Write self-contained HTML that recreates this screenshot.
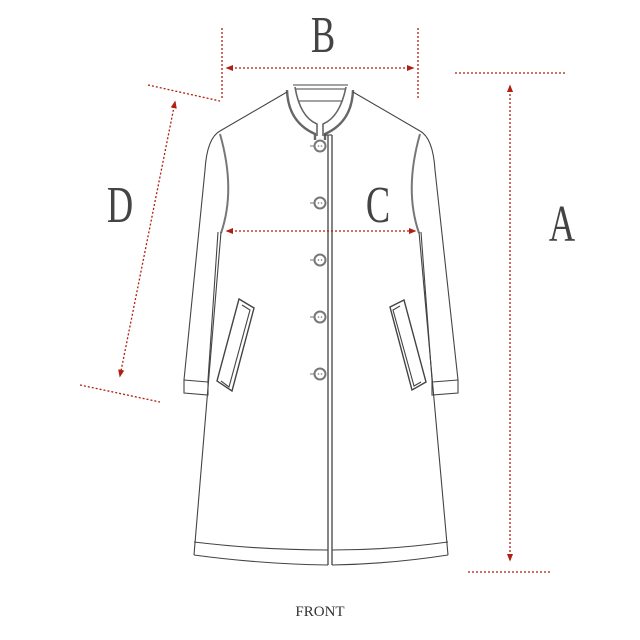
<!DOCTYPE html>
<html><head><style>body{margin:0;background:#fff}svg{display:block}</style></head><body>
<svg width="640" height="640" viewBox="0 0 640 640" xmlns="http://www.w3.org/2000/svg">
<defs>
<marker id="ar" viewBox="0 0 10 10" refX="8" refY="5" markerWidth="6" markerHeight="6" orient="auto-start-reverse"><path d="M0,1 L10,5 L0,9 z" fill="#b21e12"/></marker>
</defs>
<g fill="none" stroke="#444" stroke-width="1.1">
<path d="M293,85 L348,85"/>
<path d="M296,89 L345,89 M299,101 L342,101"/>
<path d="M287,90 Q288,122 315,134 L315,140 M353,90 Q352,122 325,134 L325,140" stroke-width="2.4" stroke="#666"/>
<path d="M295,87 Q300,117 317,124 L317,136 M346,87 Q340,117 323,124 L323,136" stroke-width="1.6" stroke="#666"/>
<path d="M287,92 L220,131 M353,92 L420,131"/>
<path d="M220,131 Q207,138 205,170 L184,380 L184,393 L208,395 L208,380 L218,232"/>
<path d="M184,380 L208,382"/>
<path d="M220,134 Q236,190 221,233" stroke-width="2" stroke="#777"/>
<path d="M420,131 Q433,138 435,170 L458,380 L458,393 L432,395 L432,380 L421,232"/>
<path d="M458,380 L432,382"/>
<path d="M420,134 Q404,190 419,233" stroke-width="2" stroke="#777"/>
<path d="M221,232 L194,555 M419,232 L448,555"/>
<path d="M194,542 Q260,550 328,550 M332,550 Q390,550 448,542"/>
<path d="M194,555 Q260,564 328,565 M332,565 Q390,564 448,555"/>
<path d="M328,135 L328,565 M332,135 L332,565" stroke-width="1.3"/>
<path d="M324,135 L332,135"/>
<path d="M239,299 L254,308 L232,391 L217,381 Z" stroke-width="1.4"/>
<path d="M242,305 L250,310 L229,387 L221,381" />
<path d="M404,300 L390,307 L412,390 L426,382 Z" stroke-width="1.4"/>
<path d="M400,306 L393,310 L414,386 L421,382"/>
</g>
<g fill="#fff" stroke="#777" stroke-width="2">
<circle cx="320" cy="146" r="5.5"/><circle cx="320" cy="203" r="5.5"/><circle cx="320" cy="260" r="5.5"/><circle cx="320" cy="317" r="5.5"/><circle cx="320" cy="374" r="5.5"/>
</g>
<g fill="#777">
<circle cx="318.5" cy="146" r="0.8"/><circle cx="321.5" cy="146" r="0.8"/>
<circle cx="318.5" cy="203" r="0.8"/><circle cx="321.5" cy="203" r="0.8"/>
<circle cx="318.5" cy="260" r="0.8"/><circle cx="321.5" cy="260" r="0.8"/>
<circle cx="318.5" cy="317" r="0.8"/><circle cx="321.5" cy="317" r="0.8"/>
<circle cx="318.5" cy="374" r="0.8"/><circle cx="321.5" cy="374" r="0.8"/>
</g>
<g stroke="#777" stroke-width="1">
<path d="M310,146 h4 M310,203 h4 M310,260 h4 M310,317 h4 M310,374 h4"/>
</g>
<g stroke="#b21e12" stroke-width="1.3" stroke-dasharray="2,2" fill="none">
<path d="M222,28 L222,98 M418,28 L418,98"/>
<path d="M227,68 L413,68" marker-start="url(#ar)" marker-end="url(#ar)"/>
<path d="M455,73 L565,73 M468,572 L550,572"/>
<path d="M510,86 L510,560" marker-start="url(#ar)" marker-end="url(#ar)"/>
<path d="M227,231 L415,231" marker-start="url(#ar)" marker-end="url(#ar)"/>
<path d="M148,85 L220,101 M80,385 L160,402"/>
<path d="M175,102 L120,376" marker-start="url(#ar)" marker-end="url(#ar)"/>
</g>
<g font-family="Liberation Serif, serif" fill="#444" text-anchor="middle">
<text transform="translate(323,52) scale(0.7,1)" font-size="52">B</text>
<text transform="translate(378,222) scale(0.7,1)" font-size="52">C</text>
<text transform="translate(562,241) scale(0.7,1)" font-size="52">A</text>
<text transform="translate(120,222) scale(0.7,1)" font-size="52">D</text>
<text x="320" y="616" font-size="15" fill="#333">FRONT</text>
</g>
</svg>
</body></html>
